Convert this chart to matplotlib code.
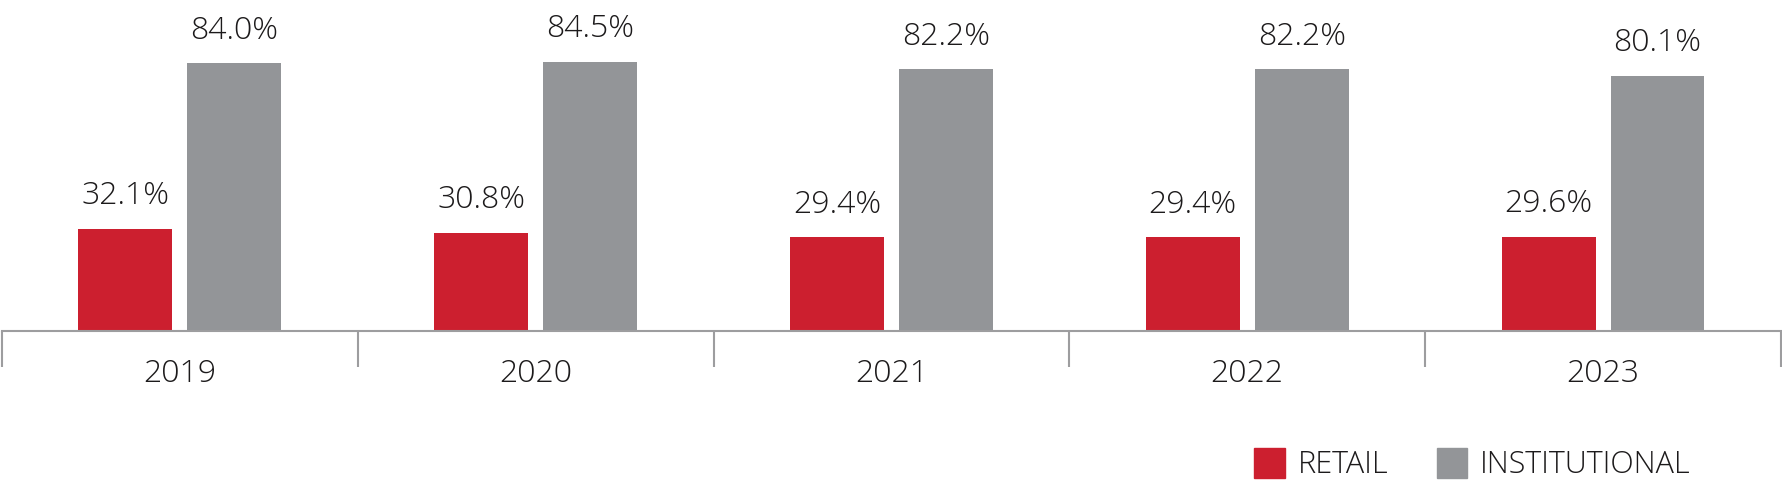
import numpy as np
import matplotlib
matplotlib.use("Agg")
import matplotlib.pyplot as plt
from matplotlib.patches import Patch

years = ["2019", "2020", "2021", "2022", "2023"]
retail = [32.1, 30.8, 29.4, 29.4, 29.6]
institutional = [84.0, 84.5, 82.2, 82.2, 80.1]

red = "#cc1f2f"
grey = "#939598"
axis_col = "#9d9d9f"
txt = "#1c1a1b"

plt.rcParams["font.family"] = ["Open Sans", "DejaVu Sans"]
plt.rcParams["font.weight"] = "light"

fig = plt.figure(figsize=(17.82, 4.82), dpi=100)
ax = fig.add_axes([0.0011, 0.3139, 0.9983, 0.66])

x = np.arange(len(years))
w = 0.264
off = 0.153
b1 = ax.bar(x - off, retail, w, color=red)
b2 = ax.bar(x + off, institutional, w, color=grey)

# value labels above each bar
for bars, vals in ((b1, retail), (b2, institutional)):
    for r, v in zip(bars, vals):
        ax.annotate(f"{v:.1f}%", (r.get_x() + r.get_width() / 2, v),
                    xytext=(0, 12), textcoords="offset points",
                    ha="center", va="bottom", fontsize=23, color=txt)

ax.set_xlim(-0.5, len(years) - 0.5)
ax.set_ylim(0, 100)
for s in ("top", "left", "right"):
    ax.spines[s].set_visible(False)
ax.spines["bottom"].set_color(axis_col)
ax.spines["bottom"].set_linewidth(1.5)
ax.set_yticks([])

ax.set_xticks(x)
ax.set_xticklabels(years, fontsize=23, color=txt)
ax.tick_params(axis="x", which="major", length=0, pad=20)
ax.set_xticks(np.arange(-0.5, len(years)), minor=True)
ax.tick_params(axis="x", which="minor", length=26, width=1.5,
               color=axis_col, direction="out")

handles = [Patch(color=red, label="RETAIL"),
           Patch(color=grey, label="INSTITUTIONAL")]
fig.legend(handles=handles, loc="center left", ncol=2, frameon=False,
           bbox_to_anchor=(0.7037, 0.0363), fontsize=22,
           borderpad=0, borderaxespad=0,
           handlelength=1.0, handleheight=1.15, handletextpad=0.42,
           columnspacing=1.6, labelcolor=txt)

fig.savefig("out.png", dpi=100)
